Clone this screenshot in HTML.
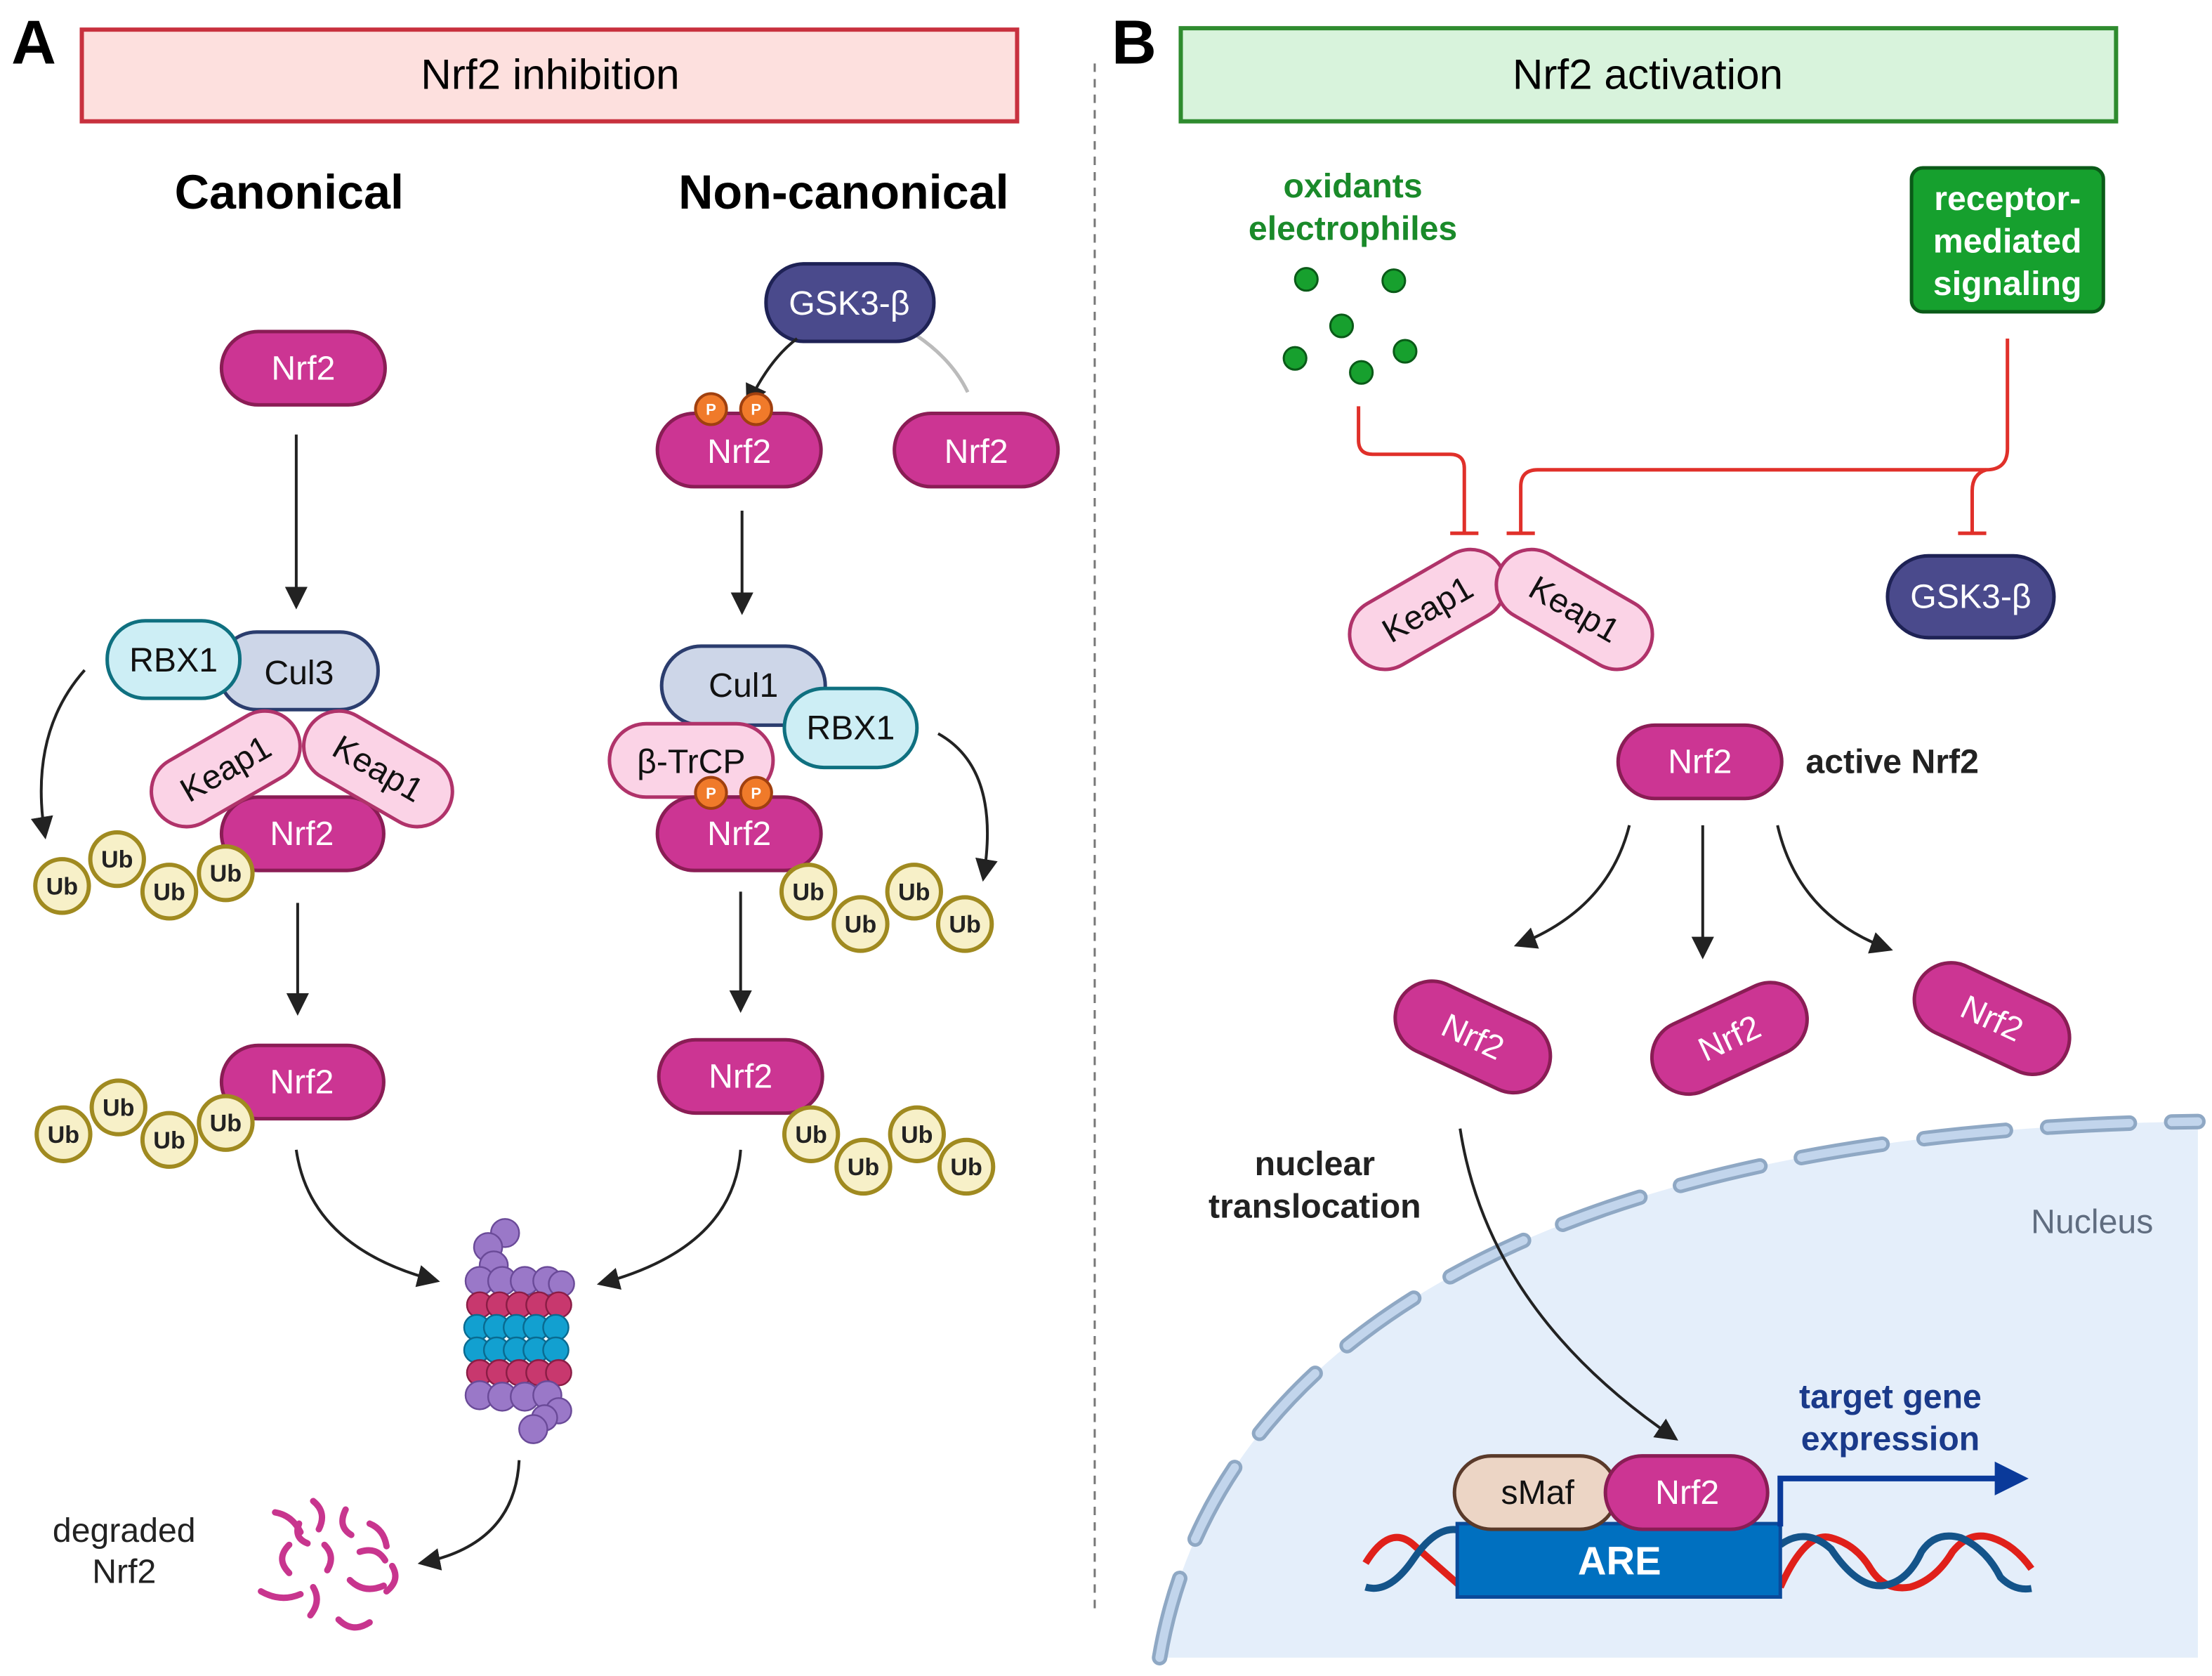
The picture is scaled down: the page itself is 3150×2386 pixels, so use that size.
<!DOCTYPE html>
<html><head><meta charset="utf-8"><style>html,body{margin:0;padding:0;background:#fff}svg{display:block}text{font-family:"Liberation Sans",sans-serif}</style></head><body>
<svg width="3150" height="2386" viewBox="0 0 1568 1188" preserveAspectRatio="none" xmlns="http://www.w3.org/2000/svg">
<defs>
<marker id="ah" markerWidth="8" markerHeight="8" refX="6" refY="4" orient="auto" markerUnits="userSpaceOnUse" viewBox="0 0 8 8"><path d="M0,0 L8,4 L0,8 Z" fill="#222"/></marker>
<marker id="ah2" markerWidth="16" markerHeight="16" refX="14" refY="8" orient="auto" markerUnits="userSpaceOnUse"><path d="M0,0 L16,8 L0,16 Z" fill="#222"/></marker>
</defs>
<style>
.nrf{fill:#cc3593;stroke:#8a1d55;stroke-width:2.5}
.nt{fill:#fff;font-size:24px;text-anchor:middle}
.kp{fill:#fbd3e6;stroke:#b0336a;stroke-width:2.5}
.kt{fill:#111;font-size:24px;text-anchor:middle}
.ub{fill:#f7f0c8;stroke:#a08a20;stroke-width:3}
.ubt{font-size:17px;font-weight:bold;text-anchor:middle;fill:#222}
.ar{stroke:#222;stroke-width:2;fill:none}
.pc{fill:#f07a2a;stroke:#a0400f;stroke-width:2}
.pt{fill:#fff;font-size:11px;font-weight:bold;text-anchor:middle}
.inh{stroke:#e0302a;stroke-width:2.5;fill:none}
</style>
<rect width="1568" height="1188" fill="#fff"/>

<!-- Nucleus -->
<path d="M822 1175 C860 950 1100 800 1558 795 L1558 1175 Z" fill="#e4eefa"/>
<path d="M822 1175 C860 950 1100 800 1558 795" fill="none" stroke="#8fa8c4" stroke-width="11" stroke-dasharray="58 30" stroke-linecap="round"/>
<path d="M822 1175 C860 950 1100 800 1558 795" fill="none" stroke="#c2d5ec" stroke-width="6" stroke-dasharray="58 30" stroke-linecap="round"/>
<text x="1483" y="874" font-size="24" fill="#606d80" text-anchor="middle">Nucleus</text>

<!-- Panel A -->
<text x="8" y="45" font-size="44" font-weight="bold">A</text>
<rect x="58" y="21" width="663" height="65" fill="#fde0de" stroke="#c8313e" stroke-width="3"/>
<text x="390" y="63" font-size="30" text-anchor="middle">Nrf2 inhibition</text>
<line x1="776" y1="45" x2="776" y2="1142" stroke="#777" stroke-width="1.5" stroke-dasharray="6 5"/>
<text x="205" y="148" font-size="34" font-weight="bold" text-anchor="middle">Canonical</text>
<text x="598" y="148" font-size="34" font-weight="bold" text-anchor="middle">Non-canonical</text>

<rect class="nrf" x="157" y="235" width="116" height="52" rx="26"/><text class="nt" x="215" y="269">Nrf2</text>
<line class="ar" x1="210" y1="308" x2="210" y2="430" marker-end="url(#ah2)"/>

<path class="ar" d="M60 475 Q20 520 32 593" marker-end="url(#ah2)"/>
<rect x="155" y="448" width="113" height="55" rx="27" fill="#cdd6e8" stroke="#2b3d6e" stroke-width="2.5"/><text class="kt" x="212" y="485">Cul3</text>
<rect x="76" y="440" width="94" height="55" rx="27" fill="#cdeef5" stroke="#0f7080" stroke-width="2.5"/><text class="kt" x="123" y="476">RBX1</text>
<rect class="nrf" x="157" y="565" width="115" height="52" rx="26"/><text class="nt" x="214" y="599">Nrf2</text>
<g transform="translate(160,545) rotate(-30)"><rect class="kp" x="-57" y="-25" width="114" height="50" rx="25"/><text class="kt" x="0" y="8">Keap1</text></g>
<g transform="translate(268,545) rotate(30)"><rect class="kp" x="-57" y="-25" width="114" height="50" rx="25"/><text class="kt" x="0" y="8">Keap1</text></g>
<g><circle class="ub" cx="44" cy="628" r="19"/><circle class="ub" cx="83" cy="609" r="19"/><circle class="ub" cx="120" cy="632" r="19"/><circle class="ub" cx="160" cy="619" r="19"/>
<text class="ubt" x="44" y="634">Ub</text><text class="ubt" x="83" y="615">Ub</text><text class="ubt" x="120" y="638">Ub</text><text class="ubt" x="160" y="625">Ub</text></g>
<line class="ar" x1="211" y1="640" x2="211" y2="718" marker-end="url(#ah2)"/>
<rect class="nrf" x="157" y="741" width="115" height="52" rx="26"/><text class="nt" x="214" y="775">Nrf2</text>
<g><circle class="ub" cx="45" cy="804" r="19"/><circle class="ub" cx="84" cy="785" r="19"/><circle class="ub" cx="120" cy="808" r="19"/><circle class="ub" cx="160" cy="796" r="19"/>
<text class="ubt" x="45" y="810">Ub</text><text class="ubt" x="84" y="791">Ub</text><text class="ubt" x="120" y="814">Ub</text><text class="ubt" x="160" y="802">Ub</text></g>
<path class="ar" d="M210 815 Q220 885 310 908" marker-end="url(#ah2)"/>
<path class="ar" d="M525 815 Q520 885 425 910" marker-end="url(#ah2)"/>

<!-- proteasome -->
<g stroke-width="1.2">
<g fill="#9a78c8" stroke="#6a4a98"><circle cx="358" cy="874" r="10"/><circle cx="346" cy="884" r="10"/><circle cx="350" cy="897" r="10"/>
<circle cx="340" cy="908" r="10"/><circle cx="356" cy="908" r="10"/><circle cx="372" cy="908" r="10"/><circle cx="388" cy="908" r="10"/><circle cx="398" cy="910" r="9"/></g>
<g fill="#c8386e" stroke="#8a1d45"><circle cx="340" cy="925" r="9"/><circle cx="354" cy="925" r="9"/><circle cx="368" cy="925" r="9"/><circle cx="382" cy="925" r="9"/><circle cx="396" cy="925" r="9"/></g>
<g fill="#12a0d0" stroke="#0a6a90"><circle cx="338" cy="941" r="9"/><circle cx="352" cy="941" r="9"/><circle cx="366" cy="941" r="9"/><circle cx="380" cy="941" r="9"/><circle cx="394" cy="941" r="9"/>
<circle cx="338" cy="957" r="9"/><circle cx="352" cy="957" r="9"/><circle cx="366" cy="957" r="9"/><circle cx="380" cy="957" r="9"/><circle cx="394" cy="957" r="9"/></g>
<g fill="#c8386e" stroke="#8a1d45"><circle cx="340" cy="973" r="9"/><circle cx="354" cy="973" r="9"/><circle cx="368" cy="973" r="9"/><circle cx="382" cy="973" r="9"/><circle cx="396" cy="973" r="9"/></g>
<g fill="#9a78c8" stroke="#6a4a98"><circle cx="340" cy="989" r="10"/><circle cx="356" cy="990" r="10"/><circle cx="372" cy="990" r="10"/><circle cx="388" cy="989" r="10"/><circle cx="396" cy="1000" r="9"/><circle cx="386" cy="1005" r="9"/><circle cx="378" cy="1013" r="10"/></g>
</g>
<path class="ar" d="M368 1035 Q365 1095 298 1108" marker-end="url(#ah2)"/>
<text x="88" y="1093" font-size="24" text-anchor="middle" fill="#222">degraded</text>
<text x="88" y="1122" font-size="24" text-anchor="middle" fill="#222">Nrf2</text>
<g stroke="#c8358e" stroke-width="4.5" fill="none" stroke-linecap="round">
<path d="M195 1072 q12 2 18 14"/><path d="M222 1064 q10 8 4 20"/><path d="M245 1070 q-6 12 4 18"/><path d="M262 1080 q10 4 12 16"/><path d="M205 1095 q-10 10 0 20"/>
<path d="M230 1095 q8 8 2 18"/><path d="M255 1100 q12 -4 18 6"/><path d="M185 1128 q14 8 28 2"/><path d="M222 1125 q6 10 -2 20"/><path d="M248 1120 q10 10 24 4"/>
<path d="M240 1148 q10 10 22 2"/><path d="M278 1110 q6 10 -4 18"/><path d="M212 1080 q-4 10 6 14"/></g>

<!-- Non-canonical -->
<path d="M650 238 Q675 255 686 278" stroke="#bbb" stroke-width="2.5" fill="none"/>
<rect x="543" y="187" width="119" height="55" rx="27" fill="#4a4a8c" stroke="#1e2255" stroke-width="2.5"/><text x="602" y="223" font-size="24" fill="#fff" text-anchor="middle">GSK3-β</text>
<path class="ar" d="M565 240 Q545 255 530 287" marker-end="url(#ah2)"/>
<rect class="nrf" x="466" y="293" width="116" height="52" rx="26"/><text class="nt" x="524" y="328">Nrf2</text>
<circle class="pc" cx="504" cy="290" r="11"/><text class="pt" x="504" y="294">P</text>
<circle class="pc" cx="536" cy="290" r="11"/><text class="pt" x="536" y="294">P</text>
<rect class="nrf" x="634" y="293" width="116" height="52" rx="26"/><text class="nt" x="692" y="328">Nrf2</text>
<line class="ar" x1="526" y1="362" x2="526" y2="434" marker-end="url(#ah2)"/>
<path class="ar" d="M665 520 Q710 545 697 623" marker-end="url(#ah2)"/>
<rect x="469" y="458" width="116" height="56" rx="28" fill="#cdd6e8" stroke="#2b3d6e" stroke-width="2.5"/><text class="kt" x="527" y="494">Cul1</text>
<rect x="556" y="488" width="94" height="56" rx="28" fill="#cdeef5" stroke="#0f7080" stroke-width="2.5"/><text class="kt" x="603" y="524">RBX1</text>
<rect class="kp" x="432" y="513" width="116" height="52" rx="26"/><text class="kt" x="490" y="548">β-TrCP</text>
<rect class="nrf" x="466" y="565" width="116" height="52" rx="26"/><text class="nt" x="524" y="599">Nrf2</text>
<circle class="pc" cx="504" cy="562" r="11"/><text class="pt" x="504" y="566">P</text>
<circle class="pc" cx="536" cy="562" r="11"/><text class="pt" x="536" y="566">P</text>
<g><circle class="ub" cx="573" cy="632" r="19"/><circle class="ub" cx="610" cy="655" r="19"/><circle class="ub" cx="648" cy="632" r="19"/><circle class="ub" cx="684" cy="655" r="19"/>
<text class="ubt" x="573" y="638">Ub</text><text class="ubt" x="610" y="661">Ub</text><text class="ubt" x="648" y="638">Ub</text><text class="ubt" x="684" y="661">Ub</text></g>
<line class="ar" x1="525" y1="632" x2="525" y2="716" marker-end="url(#ah2)"/>
<rect class="nrf" x="467" y="737" width="116" height="52" rx="26"/><text class="nt" x="525" y="771">Nrf2</text>
<g><circle class="ub" cx="575" cy="804" r="19"/><circle class="ub" cx="612" cy="827" r="19"/><circle class="ub" cx="650" cy="804" r="19"/><circle class="ub" cx="685" cy="827" r="19"/>
<text class="ubt" x="575" y="810">Ub</text><text class="ubt" x="612" y="833">Ub</text><text class="ubt" x="650" y="810">Ub</text><text class="ubt" x="685" y="833">Ub</text></g>

<!-- Panel B -->
<text x="788" y="45" font-size="44" font-weight="bold">B</text>
<rect x="837" y="20" width="663" height="66" fill="#d8f3dc" stroke="#2e8b2e" stroke-width="3"/>
<text x="1168" y="63" font-size="30" text-anchor="middle">Nrf2 activation</text>
<text x="959" y="140" font-size="24" font-weight="bold" fill="#1a8a2a" text-anchor="middle">oxidants</text>
<text x="959" y="170" font-size="24" font-weight="bold" fill="#1a8a2a" text-anchor="middle">electrophiles</text>
<g fill="#17a02e" stroke="#0a5a18" stroke-width="1.5"><circle cx="926" cy="198" r="8"/><circle cx="988" cy="199" r="8"/><circle cx="951" cy="231" r="8"/><circle cx="996" cy="249" r="8"/><circle cx="918" cy="254" r="8"/><circle cx="965" cy="264" r="8"/></g>
<rect x="1355" y="119" width="136" height="102" rx="8" fill="#16a02e" stroke="#0a5a18" stroke-width="2.5"/>
<text x="1423" y="149" font-size="24" font-weight="bold" fill="#fff" text-anchor="middle">receptor-</text>
<text x="1423" y="179" font-size="24" font-weight="bold" fill="#fff" text-anchor="middle">mediated</text>
<text x="1423" y="209" font-size="24" font-weight="bold" fill="#fff" text-anchor="middle">signaling</text>
<path class="inh" d="M963 288 L963 312 Q963 322 973 322 L1028 322 Q1038 322 1038 332 L1038 378 M1028 378 L1048 378"/>
<path class="inh" d="M1423 240 L1423 318 Q1423 333 1408 333 L1090 333 Q1078 333 1078 345 L1078 378 M1068 378 L1088 378"/>
<path class="inh" d="M1408 333 Q1398 336 1398 348 L1398 378 M1388 378 L1408 378"/>
<g transform="translate(1012,432) rotate(-30)"><rect class="kp" x="-60" y="-25" width="120" height="50" rx="25"/><text class="kt" x="0" y="8">Keap1</text></g>
<g transform="translate(1116,432) rotate(30)"><rect class="kp" x="-60" y="-25" width="120" height="50" rx="25"/><text class="kt" x="0" y="8">Keap1</text></g>
<rect x="1338" y="394" width="118" height="58" rx="29" fill="#4a4a8c" stroke="#1e2255" stroke-width="2.5"/><text x="1397" y="431" font-size="24" fill="#fff" text-anchor="middle">GSK3-β</text>
<rect class="nrf" x="1147" y="514" width="116" height="52" rx="26"/><text class="nt" x="1205" y="548">Nrf2</text>
<text x="1280" y="548" font-size="24" font-weight="bold" fill="#222">active Nrf2</text>
<path class="ar" d="M1155 585 Q1140 645 1075 670" marker-end="url(#ah2)"/>
<line class="ar" x1="1207" y1="585" x2="1207" y2="678" marker-end="url(#ah2)"/>
<path class="ar" d="M1260 585 Q1275 650 1340 673" marker-end="url(#ah2)"/>
<g transform="translate(1044,735) rotate(25)"><rect class="nrf" x="-58" y="-26" width="116" height="52" rx="26"/><text class="nt" x="0" y="8">Nrf2</text></g>
<g transform="translate(1226,736) rotate(-25)"><rect class="nrf" x="-58" y="-26" width="116" height="52" rx="26"/><text class="nt" x="0" y="8">Nrf2</text></g>
<g transform="translate(1412,722) rotate(25)"><rect class="nrf" x="-58" y="-26" width="116" height="52" rx="26"/><text class="nt" x="0" y="8">Nrf2</text></g>
<text x="932" y="833" font-size="24" font-weight="bold" text-anchor="middle" fill="#222">nuclear</text>
<text x="932" y="863" font-size="24" font-weight="bold" text-anchor="middle" fill="#222">translocation</text>
<path class="ar" d="M1035 800 Q1055 930 1188 1020" marker-end="url(#ah2)"/>
<text x="1340" y="998" font-size="24" font-weight="bold" fill="#1a3a8a" text-anchor="middle">target gene</text>
<text x="1340" y="1028" font-size="24" font-weight="bold" fill="#1a3a8a" text-anchor="middle">expression</text>
<!-- DNA -->
<g fill="none" stroke-width="5">
<path d="M968 1108 Q985 1080 1002 1095 T1036 1125" stroke="#e0201a"/>
<path d="M968 1125 Q985 1130 1002 1105 T1036 1085" stroke="#14548a"/>
<path d="M1262 1125 Q1280 1085 1298 1090 Q1316 1095 1326 1112 Q1336 1128 1354 1125 Q1372 1120 1384 1100 Q1396 1085 1412 1090 Q1428 1095 1440 1112" stroke="#e0201a"/>
<path d="M1262 1095 Q1280 1082 1298 1098 Q1316 1125 1334 1124 Q1352 1122 1362 1100 Q1372 1085 1390 1090 Q1408 1098 1418 1118 Q1428 1128 1440 1126" stroke="#14548a"/>
</g>
<rect x="1033" y="1080" width="229" height="52" fill="#0070c0" stroke="#0a4a9a" stroke-width="2.5"/>
<text x="1148" y="1116" font-size="28" font-weight="bold" fill="#fff" text-anchor="middle">ARE</text>
<rect x="1031" y="1032" width="115" height="52" rx="26" fill="#ecd5c5" stroke="#5a3a2a" stroke-width="2.5"/><text class="kt" x="1090" y="1066">sMaf</text>
<rect class="nrf" x="1138" y="1032" width="115" height="52" rx="26"/><text class="nt" x="1196" y="1066">Nrf2</text>
<path d="M1262 1082 L1262 1048 L1418 1048" stroke="#0a3a9a" stroke-width="4" fill="none"/>
<path d="M1414 1036 L1438 1048 L1414 1060 Z" fill="#0a3a9a"/>
</svg>
</body></html>
